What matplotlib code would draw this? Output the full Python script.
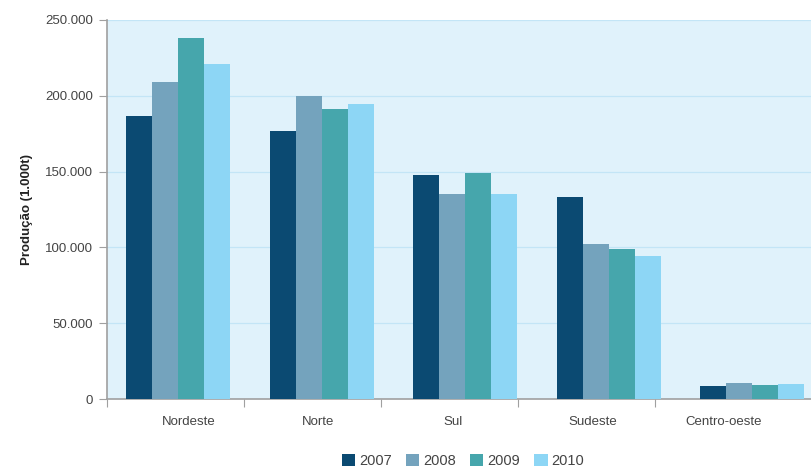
import matplotlib
matplotlib.use("Agg")
import matplotlib.pyplot as plt
from matplotlib.ticker import FuncFormatter
import numpy as np

plt.rcParams["font.family"] = ["Liberation Sans", "DejaVu Sans"]

regions = ["Nordeste", "Norte", "Sul", "Sudeste", "Centro-oeste"]
years = ["2007", "2008", "2009", "2010"]
prod_2007 = [186500, 177000, 147500, 133500, 8600]
prod_2008 = [209000, 200000, 135500, 102500, 10600]
prod_2009 = [238000, 191000, 149000, 99000, 9300]
prod_2010 = [221000, 194500, 135000, 94600, 10000]
series = [prod_2007, prod_2008, prod_2009, prod_2010]

colors = ["#0b4a72", "#74a3bd", "#46a6ac", "#8dd6f5"]
BG = "#e0f2fb"
GRID = "#c3e5f6"
AXIS = "#a0a0a0"
TEXT = "#444444"

fig = plt.figure(figsize=(8.11, 4.67), dpi=100)
ax = fig.add_axes([0.132, 0.1456, 0.868, 0.8116])
ax.set_facecolor(BG)

x = np.arange(len(regions))
bw = 0.181
for k, (vals, c, yr) in enumerate(zip(series, colors, years)):
    ax.bar(x + (k - 1.5) * bw, vals, width=bw, color=c, label=yr,
           linewidth=0, zorder=3)

ax.set_ylim(0, 250000)
ax.set_xlim(-0.495, 4.41)
ax.set_yticks(np.arange(0, 250001, 50000))
ax.yaxis.set_major_formatter(
    FuncFormatter(lambda v, _: "0" if v == 0 else f"{int(v):,}".replace(",", ".")))
ax.yaxis.grid(True, color=GRID, linewidth=0.9, zorder=0)
ax.set_axisbelow(True)

# category boundary ticks, names placed between them
step = 0.9547
bounds = -0.495 + step * np.arange(len(regions))
label_pos = [0.077, 0.976, 1.916, 2.892, 3.798]
ax.set_xticks(bounds)
ax.set_xticklabels([])
ax.set_xticks(label_pos, minor=True)
ax.set_xticklabels(regions, minor=True)
ax.tick_params(axis="x", which="minor", length=0, pad=12,
               labelsize=9.5, labelcolor=TEXT)
ax.tick_params(axis="x", which="major", length=6, color=AXIS, direction="out")
ax.tick_params(axis="y", length=6, color=AXIS, labelsize=9.5,
               labelcolor=TEXT, pad=4)

for s in ["top", "right"]:
    ax.spines[s].set_visible(False)
for s in ["left", "bottom"]:
    ax.spines[s].set_color(AXIS)
    ax.spines[s].set_linewidth(1.2)

ax.set_ylabel("Produção (1.000t)", fontsize=9.5, fontweight="bold",
              color="#222222", labelpad=9)

fig.legend(loc="lower center", bbox_to_anchor=(0.571, -0.03), ncol=4,
           frameon=False, fontsize=10.5, handlelength=0.9, handleheight=0.9,
           handletextpad=0.25, columnspacing=1.0, labelcolor=TEXT)

fig.savefig("out.png", dpi=100)
